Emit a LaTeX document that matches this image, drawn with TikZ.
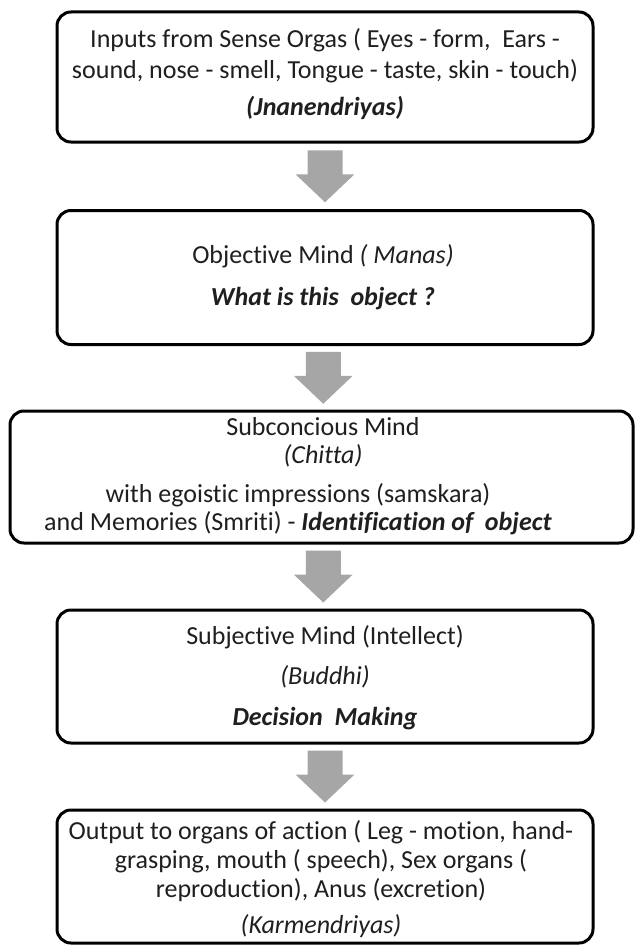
\documentclass[tikz,border=0pt]{standalone}
\usepackage{fontspec}
\setmainfont{Carlito}[Ligatures=NoCommon]
\usetikzlibrary{calc}

\definecolor{inkgray}{HTML}{1F1F1F}
\definecolor{arrowgray}{HTML}{A6A6A6}

\tikzset{
  stagebox/.style={draw=black, line width=3pt, rounded corners=14pt,
    fill=white, inner sep=0pt},
  txt/.style={anchor=base, inner sep=0pt, text=inkgray,
    font=\fontsize{26}{31}\selectfont},
  blockfill/.style={fill=arrowgray, draw=none},
}

% downward block arrow centred in the gap between two stage boxes
\newcommand\downblock[2]{%
  \path (#1.south) -- coordinate[pos=0.5] (#1-#2-mid) (#2.north);
  \fill[blockfill]
    ($(#1-#2-mid)+(-17.5,-26)$) -- ($(#1-#2-mid)+(17.5,-26)$) --
    ($(#1-#2-mid)+(17.5,-2)$)   -- ($(#1-#2-mid)+(29.5,-2)$)  --
    ($(#1-#2-mid)+(0,26)$)      -- ($(#1-#2-mid)+(-29.5,-2)$) --
    ($(#1-#2-mid)+(-17.5,-2)$)  -- cycle;
}

\begin{document}
\begin{tikzpicture}[x=1pt, y=-1pt]
\useasboundingbox (0,0) rectangle (636,947);

% stage boxes
\node[stagebox, minimum width=536pt, minimum height=130pt] (senses)  at (325,77)    {};
\node[stagebox, minimum width=536pt, minimum height=134pt] (manas)   at (325,277.5) {};
\node[stagebox, minimum width=623pt, minimum height=132pt] (chitta)  at (321.5,477) {};
\node[stagebox, minimum width=536pt, minimum height=133pt] (buddhi)  at (325,676.5) {};
\node[stagebox, minimum width=536pt, minimum height=133pt] (actions) at (325,876.5) {};

% block arrows between the stages
\downblock{senses}{manas}
\downblock{manas}{chitta}
\downblock{chitta}{buddhi}
\downblock{buddhi}{actions}

% texts of the first stage
\node[txt] (s1) at (325,48)  {Inputs from Sense Orgas ( Eyes - form,\ \ Ears -};
\node[txt] (s2) at (325,79)  {sound, nose - smell, Tongue - taste, skin - touch)};
\node[txt] (s3) at (325,116) {\bfseries\itshape (Jnanendriyas)};

% texts of the second stage
\node[txt] (m1) at (323,263) {Objective Mind \textit{( Manas)}};
\node[txt] (m2) at (323,305) {\bfseries\itshape What is this\ \ object ?};

% texts of the third stage
\node[txt] (c1) at (323,435) {Subconcious Mind};
\node[txt] (c2) at (323,463) {\itshape (Chitta)};
\node[txt] (c3) at (298,502) {with egoistic impressions (samskara)};
\node[txt] (c4) at (298,530) {and Memories (Smriti) - \textbf{\textit{Identification of\ \ object}}};

% texts of the fourth stage
\node[txt] (b1) at (325,644) {Subjective Mind (Intellect)};
\node[txt] (b2) at (325,684) {\itshape (Buddhi)};
\node[txt] (b3) at (325,725) {\bfseries\itshape Decision\ \ Making};

% texts of the last stage
\node[txt] (a1) at (321,839) {Output to organs of action ( Leg - motion, hand-};
\node[txt] (a2) at (321,868) {grasping, mouth ( speech), Sex organs (};
\node[txt] (a3) at (321,897) {reproduction), Anus (excretion)};
\node[txt] (a4) at (321,933) {\itshape (Karmendriyas)};
\end{tikzpicture}
\end{document}
